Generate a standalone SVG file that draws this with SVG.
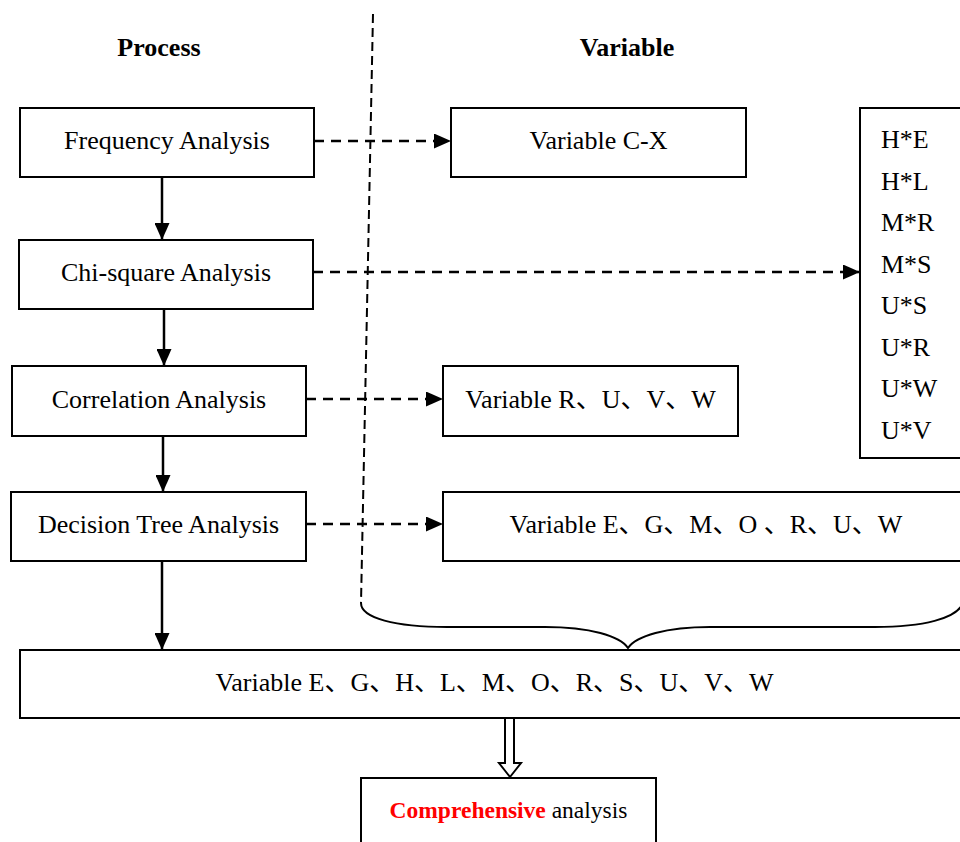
<svg xmlns="http://www.w3.org/2000/svg" width="960" height="842" viewBox="0 0 960 842">
<style>
  .box { fill: #fff; stroke: #000; stroke-width: 2; }
  .t { font-family: "Liberation Serif", "Noto Sans CJK SC", serif; font-size: 26px; fill: #000; }
  .c { text-anchor: middle; }
  .h { font-weight: bold; }
  .sm { font-size: 23.5px; }
  .red { font-weight: bold; fill: #ff0000; }
  .solid { stroke: #000; stroke-width: 2.5; fill: none; }
  .dash { stroke: #000; stroke-width: 2.5; fill: none; stroke-dasharray: 10 7; }
  .vdash { stroke: #000; stroke-width: 2; fill: none; stroke-dasharray: 9 5; }
</style>
<defs>
  <marker id="ah" markerUnits="userSpaceOnUse" markerWidth="17" markerHeight="15" refX="17" refY="7.5" orient="auto">
    <path d="M0,0 L17,7.5 L0,15 z" fill="#000"/>
  </marker>
</defs>
<rect width="960" height="842" fill="#fff"/>

<text class="t c h" x="159" y="56">Process</text>
<text class="t c h" x="627" y="56">Variable</text>

<g id="connectors">
  <path class="vdash" d="M373,14 L361,603"/>
  <path d="M361,603 C361,618 395,627 447,627 L545,627 C590,627 620,636 628,648 C636,636 666,627 710,627 L875,627 C925,627 955,618 962,605" stroke="#000" stroke-width="2" fill="none"/>
  <path class="solid" d="M162,177 L162,240" marker-end="url(#ah)"/>
  <path class="solid" d="M164,309 L164,366" marker-end="url(#ah)"/>
  <path class="solid" d="M163,436 L163,492" marker-end="url(#ah)"/>
  <path class="solid" d="M162,561 L162,650" marker-end="url(#ah)"/>
  <path class="dash" d="M314,141 L451,141" marker-end="url(#ah)"/>
  <path class="dash" d="M313,272 L860,272" marker-end="url(#ah)"/>
  <path class="dash" d="M306,399 L443,399" marker-end="url(#ah)"/>
  <path class="dash" d="M306,524 L443,524" marker-end="url(#ah)"/>
  <path d="M505,719 L505,763 L499,763 L510,777 L521,763 L514,763 L514,719" fill="#fff" stroke="#000" stroke-width="2"/>
</g>

<g id="freq">
  <rect class="box" x="20" y="108" width="294" height="69"/>
  <text class="t c" x="167" y="149">Frequency Analysis</text>
</g>
<g id="chi">
  <rect class="box" x="19" y="240" width="294" height="69"/>
  <text class="t c" x="166" y="281">Chi-square Analysis</text>
</g>
<g id="corr">
  <rect class="box" x="12" y="366" width="294" height="70"/>
  <text class="t c" x="159" y="408">Correlation Analysis</text>
</g>
<g id="dtree">
  <rect class="box" x="11" y="492" width="295" height="69"/>
  <text class="t c" x="158.5" y="533">Decision Tree Analysis</text>
</g>
<g id="varCX">
  <rect class="box" x="451" y="108" width="295" height="69"/>
  <text class="t c" x="598.5" y="149">Variable C-X</text>
</g>
<g id="varRUVW">
  <rect class="box" x="443" y="366" width="295" height="70"/>
  <text class="t c" x="590.5" y="408">Variable R、U、V、W</text>
</g>
<g id="varDT">
  <rect class="box" x="443" y="492" width="530" height="69"/>
  <text class="t c" x="706" y="533">Variable E、G、M、O 、R、U、W</text>
</g>
<g id="pairs">
  <rect class="box" x="860" y="108" width="120" height="350"/>
  <text class="t" x="881" y="148">H*E</text>
  <text class="t" x="881" y="189.5">H*L</text>
  <text class="t" x="881" y="231">M*R</text>
  <text class="t" x="881" y="272.5">M*S</text>
  <text class="t" x="881" y="314">U*S</text>
  <text class="t" x="881" y="355.5">U*R</text>
  <text class="t" x="881" y="397">U*W</text>
  <text class="t" x="881" y="438.5">U*V</text>
</g>
<g id="varAll">
  <rect class="box" x="20" y="650" width="950" height="68"/>
  <text class="t c" x="494.5" y="691">Variable E、G、H、L、M、O、R、S、U、V、W</text>
</g>
<g id="comp">
  <rect class="box" x="361" y="778" width="295" height="80"/>
  <text class="t c sm" x="508.5" y="818"><tspan class="red">Comprehensive</tspan> analysis</text>
</g>
</svg>
